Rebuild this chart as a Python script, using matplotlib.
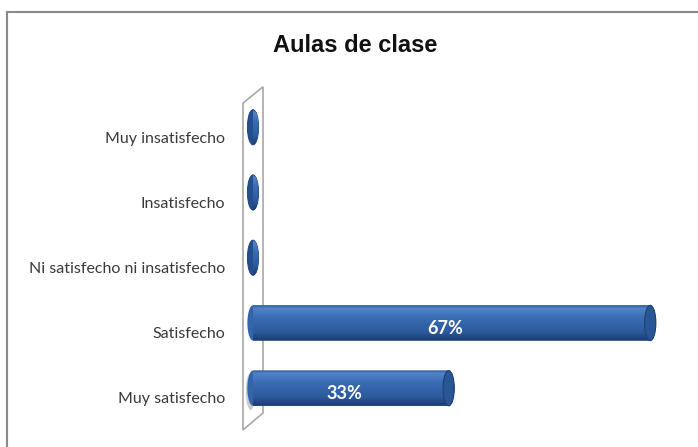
import matplotlib
matplotlib.use("Agg")
import matplotlib.pyplot as plt
import numpy as np
from matplotlib.colors import LinearSegmentedColormap
from matplotlib.lines import Line2D
from matplotlib.patches import Ellipse, PathPatch, Polygon
from matplotlib.path import Path

# survey answers, bottom to top
categories = ["Muy satisfecho", "Satisfecho", "Ni satisfecho ni insatisfecho",
              "Insatisfecho", "Muy insatisfecho"]
values = [33, 67, 0, 0, 0]
labels = ["33%", "67%", "", "", ""]
title = "Aulas de clase"

W, H = 698, 447
fig = plt.figure(figsize=(W / 100, H / 100), dpi=100)
fig.patch.set_facecolor("white")

# plot area: x in percent, one row per category
ax = fig.add_axes([253 / W, 1 - 430.6 / H, 415 / W, 326.2 / H])
ax.set_xlim(0, 70)
ax.set_ylim(-0.5, 4.5)
for s in ax.spines.values():
    s.set_visible(False)
ax.set_xticks([])
ax.set_yticks(range(len(categories)))
ax.set_yticklabels(categories, family="Lato", fontsize=11.5, color="#3a3a3a")
ax.tick_params(axis="y", length=0, pad=20)

# back wall drawn as a slanted panel behind the bars
dx = 1.69
wall = Polygon([(-dx, -0.49), (-dx, 4.52), (dx, 4.77), (dx, -0.23)],
               closed=True, facecolor="white", edgecolor="#a8a8a8", lw=1.2,
               clip_on=False, zorder=1)
ax.add_patch(wall)

bar_h = 0.54
cap_w = 1.9
lift = 0.15

# vertical shading of the cylinders, top row first
body_cmap = LinearSegmentedColormap.from_list("body", [
    (0.0, "#2a5897"), (0.08, "#5384c9"), (0.35, "#3a6cb3"),
    (0.75, "#2c5b9c"), (1.0, "#1a3b6e")])
grad = np.linspace(0, 1, 64).reshape(-1, 1)


def cylinder_path(x1, yc):
    t = np.linspace(np.pi / 2, -np.pi / 2, 30)
    right = np.column_stack([x1 + cap_w / 2 * np.cos(t), yc + bar_h / 2 * np.sin(t)])
    t2 = np.linspace(-np.pi / 2, -3 * np.pi / 2, 30)
    left = np.column_stack([cap_w / 2 * np.cos(t2), yc + bar_h / 2 * np.sin(t2)])
    pts = np.vstack([right, left, right[:1]])
    codes = [Path.MOVETO] + [Path.LINETO] * (len(pts) - 2) + [Path.CLOSEPOLY]
    return Path(pts, codes)


def shaded(patch, x0, x1, yc):
    im = ax.imshow(grad, cmap=body_cmap, aspect="auto", zorder=3,
                   extent=[x0, x1, yc - bar_h / 2, yc + bar_h / 2])
    im.set_clip_box(None)
    im.set_clip_path(patch)
    return im


for i, (v, lab) in enumerate(zip(values, labels)):
    yc = i + lift
    if v == 0:
        e = Ellipse((0, yc), cap_w, bar_h, facecolor="#244f8e",
                    edgecolor="#1b3d70", lw=0.6, zorder=3, clip_on=False)
        ax.add_patch(e)
        shaded(e, -cap_w / 2, cap_w / 2, yc)
        continue
    if i == 0:
        shadow = Ellipse((-0.4, yc - 0.05), 1.6, bar_h * 1.05, facecolor="#b4b4b4",
                         edgecolor="none", alpha=0.7, zorder=2, clip_on=False)
        ax.add_patch(shadow)
    outline = PathPatch(cylinder_path(v, yc), facecolor="#3465ab",
                        edgecolor="none", zorder=3, clip_on=False)
    ax.add_patch(outline)
    shaded(outline, -cap_w / 2, v + cap_w / 2, yc)
    cap = Ellipse((v, yc), cap_w, bar_h, facecolor="#2a5695",
                  edgecolor="#1d4078", lw=0.8, zorder=4, clip_on=False)
    ax.add_patch(cap)
    ax.text(v / 2 - 1, i + 0.07, lab, ha="center", va="center", color="white",
            family="Lato", fontweight="bold", fontsize=13, zorder=5)

ax.set_xlim(0, 70)
ax.set_ylim(-0.5, 4.5)

fig.text(355 / W, 1 - 45 / H, title, ha="center", va="center",
         family="Liberation Sans", fontweight="bold", fontsize=17, color="#111111")

# outer chart frame (top and left edges)
fig.add_artist(Line2D([7 / W, 1], [1 - 12 / H, 1 - 12 / H], transform=fig.transFigure,
                      color="#8a8a8a", lw=1.5))
fig.add_artist(Line2D([7 / W, 7 / W], [0, 1 - 12 / H], transform=fig.transFigure,
                      color="#8a8a8a", lw=1.5))

fig.savefig("out.png", dpi=100)
